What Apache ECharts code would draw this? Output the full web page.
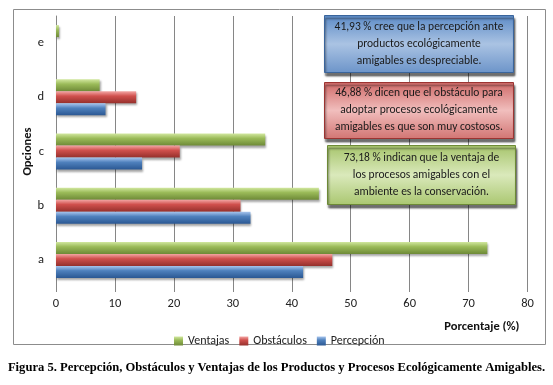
<!DOCTYPE html>
<html>
<head>
<meta charset="utf-8">
<script src="https://cdn.jsdelivr.net/npm/echarts@6/dist/echarts.min.js"></script>
<style>
  html, body { margin: 0; padding: 0; background: #fff; }
  #chart { width: 553px; height: 385px; }
</style>
</head>
<body>
<div id="chart"></div>
<script>
// datos
const categorias = ['a', 'b', 'c', 'd', 'e']
const percepcion = [41.93, 33.0, 14.6, 8.4, 0]
const obstaculos = [46.88, 31.3, 21.0, 13.6, 0]
const ventajas = [73.18, 44.6, 35.5, 7.4, 0.5]
const ejeX = { min: 0, max: 80, interval: 10 }

const fuente = 'Carlito, Lato, "Liberation Sans", sans-serif'

// gradiente "cilindrico" tipo Excel
function cilindro (claro, medio, oscuro) {
  return new echarts.graphic.LinearGradient(0, 0, 0, 1, [
    { offset: 0, color: claro },
    { offset: 0.4, color: medio },
    { offset: 1, color: oscuro }
  ])
}

function serie (nombre, datos, colores) {
  return {
    name: nombre,
    type: 'bar',
    data: datos,
    barWidth: 12,
    barGap: '0%',
    itemStyle: {
      color: cilindro(colores[0], colores[1], colores[2]),
      shadowColor: 'rgba(0,0,0,0.35)',
      shadowBlur: 2,
      shadowOffsetX: 1,
      shadowOffsetY: 2
    }
  }
}

// cuadros de texto
function cuadro (x, y, w, h, c1, c2, c3, borde, lineas) {
  return {
    type: 'group',
    left: x,
    top: y,
    z: 100,
    children: [
      {
        type: 'rect',
        z: 100,
        shape: { x: 0, y: 0, width: w, height: h },
        style: {
          fill: new echarts.graphic.LinearGradient(0, 0, 0, 1, [
            { offset: 0, color: c1 },
            { offset: 0.5, color: c2 },
            { offset: 1, color: c3 }
          ]),
          stroke: borde,
          lineWidth: 1,
          shadowColor: 'rgba(0,0,0,0.55)',
          shadowOffsetY: 3,
          shadowOffsetX: 1,
          shadowBlur: 2
        }
      },
      {
        type: 'text',
        z: 101,
        x: w / 2,
        y: h / 2,
        style: {
          text: lineas.join('\n'),
          fill: '#1a1a1a',
          font: '11.5px ' + fuente,
          lineHeight: 17,
          align: 'center',
          verticalAlign: 'middle'
        }
      }
    ]
  }
}

const myChart = echarts.init(document.getElementById('chart'))
const option = {
  backgroundColor: '#fff',
  animation: false,
  textStyle: { fontFamily: fuente },
  grid: {
    left: 56,
    right: 25.5,
    top: 16,
    bottom: 98
  },
  legend: {
    data: ['Ventajas', 'Obstáculos', 'Percepción'],
    left: 169,
    top: 330,
    itemWidth: 9,
    itemHeight: 9,
    itemGap: 10,
    icon: 'rect',
    textStyle: { color: '#222', fontSize: 12, fontFamily: fuente }
  },
  xAxis: {
    type: 'value',
    min: ejeX.min,
    max: ejeX.max,
    interval: ejeX.interval,
    name: 'Porcentaje (%)',
    nameLocation: 'end',
    nameGap: -8,
    nameTextStyle: {
      align: 'right',
      verticalAlign: 'top',
      padding: [33, 0, 0, 0],
      fontWeight: 'bold',
      fontSize: 12.5,
      color: '#111'
    },
    axisLine: { show: false },
    axisTick: { show: true, length: 5, lineStyle: { color: '#868686' } },
    axisLabel: { color: '#222', fontSize: 12.5, margin: 10 },
    splitLine: { show: true, lineStyle: { color: '#868686', width: 1 } }
  },
  yAxis: {
    type: 'category',
    data: categorias,
    name: 'Opciones',
    nameLocation: 'middle',
    nameRotate: 90,
    nameGap: 22,
    nameMoveOverlap: false,
    nameTextStyle: { fontWeight: 'bold', fontSize: 12.5, color: '#111' },
    axisLine: { show: true, lineStyle: { color: '#868686' } },
    axisTick: { show: false },
    axisLabel: { color: '#222', fontSize: 12.5, margin: 12 }
  },
  series: [
    serie('Ventajas', ventajas, ['#d2e8a0', '#9bbb59', '#6e8a37']),
    serie('Obstáculos', obstaculos, ['#f4a7a5', '#d0504d', '#95302c']),
    serie('Percepción', percepcion, ['#a9c6ee', '#4f81bd', '#2b5893'])
  ],
  graphic: [
    {
      type: 'rect',
      left: 11,
      top: 7,
      shape: { x: 0, y: 0, width: 532, height: 335 },
      style: { fill: 'none', stroke: '#8c8c8c', lineWidth: 1 },
      silent: true
    },
    cuadro(324, 15, 189, 57, '#5b8ac6', '#aac3e3', '#6c94c9', '#3a659c', [
      '41,93 % cree que la percepción ante',
      'productos ecológicamente',
      'amigables es despreciable.'
    ]),
    cuadro(324, 82, 189, 56, '#cf6866', '#f1bebd', '#d27573', '#9c3432', [
      '46,88 % dicen que el obstáculo para',
      'adoptar procesos ecológicamente',
      'amigables es que son muy costosos.'
    ]),
    cuadro(327, 145, 188, 59, '#a6c46b', '#dae9bb', '#aac770', '#6d8a36', [
      '73,18 % indican que la ventaja de',
      'los procesos amigables con el',
      'ambiente es la conservación.'
    ]),
    {
      type: 'text',
      left: 'center',
      top: 361,
      style: {
        text: 'Figura 5. Percepción, Obstáculos y Ventajas de los Productos y Procesos Ecológicamente Amigables.',
        fill: '#000',
        font: 'bold 12.6px "Liberation Serif", "Times New Roman", serif'
      }
    }
  ]
}
myChart.setOption(option)
window.addEventListener('resize', function () {
  myChart.resize()
})
</script>
</body>
</html>
